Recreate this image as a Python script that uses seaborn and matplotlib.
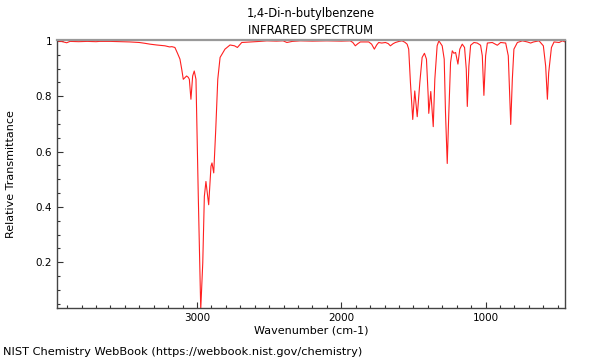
import pandas as pd
import matplotlib
matplotlib.use('Agg')
import matplotlib.pyplot as plt
import matplotlib.ticker as mticker
import seaborn as sns

# IR spectrum
wavenumber = [3970, 3940, 3903, 3880, 3820, 3760, 3700, 3674, 3600, 3530,
              3465, 3400, 3360, 3326, 3280, 3222, 3190, 3174, 3153, 3135,
              3118, 3105, 3095, 3085, 3072, 3060, 3053, 3042, 3030, 3019,
              3007, 2991, 2974, 2960, 2949, 2938, 2919, 2903, 2896, 2884,
              2870, 2856, 2840, 2806, 2771, 2740, 2720, 2690, 2620, 2563,
              2516, 2450, 2403, 2377, 2340, 2285, 2200, 2100, 2000, 1938,
              1920, 1903, 1885, 1868, 1840, 1810, 1790, 1771, 1755, 1741,
              1720, 1694, 1675, 1660, 1640, 1625, 1600, 1579, 1560, 1544,
              1533, 1521, 1505, 1491, 1474, 1456, 1440, 1424, 1410, 1398,
              1394, 1380, 1363, 1352, 1336, 1324, 1301, 1287, 1278, 1266,
              1255, 1243, 1231, 1220, 1208, 1192, 1179, 1162, 1146, 1134,
              1127, 1116, 1104, 1081, 1058, 1035, 1023, 1012, 1000, 988,
              954, 919, 896, 861, 843, 826, 815, 804, 780, 745,
              711, 688, 668, 630, 600, 584, 572, 563, 544, 526,
              491, 467, 450]
transmittance = [0.999, 0.998, 0.993, 0.998, 0.997, 0.998, 0.997, 0.998, 0.998, 0.997,
                 0.996, 0.994, 0.991, 0.988, 0.985, 0.982, 0.978, 0.979, 0.976, 0.955,
                 0.934, 0.895, 0.861, 0.866, 0.873, 0.868, 0.861, 0.789, 0.873, 0.891,
                 0.861, 0.438, 0.03, 0.198, 0.438, 0.492, 0.408, 0.547, 0.559, 0.523,
                 0.680, 0.861, 0.940, 0.970, 0.985, 0.982, 0.976, 0.994, 0.996, 0.998,
                 1.0, 0.999, 1.0, 0.994, 0.998, 1.0, 0.999, 1.0, 0.999, 1.0,
                 0.994, 0.982, 0.990, 0.996, 0.996, 0.996, 0.988, 0.970, 0.985, 0.994,
                 0.992, 0.994, 0.990, 0.982, 0.990, 0.994, 0.998, 1.0, 0.995, 0.988,
                 0.970, 0.849, 0.716, 0.819, 0.726, 0.849, 0.940, 0.955, 0.934, 0.801,
                 0.738, 0.817, 0.690, 0.861, 0.982, 1.0, 0.982, 0.934, 0.740, 0.557,
                 0.740, 0.922, 0.964, 0.955, 0.958, 0.916, 0.970, 0.988, 0.976, 0.897,
                 0.763, 0.909, 0.984, 0.994, 0.992, 0.984, 0.946, 0.803, 0.946, 0.992,
                 0.994, 0.984, 0.994, 0.992, 0.946, 0.698, 0.861, 0.970, 0.994, 1.0,
                 0.996, 0.992, 0.996, 1.0, 0.982, 0.909, 0.789, 0.885, 0.976, 0.996,
                 0.994, 1.0, 0.996]

x_ticks = [1000, 2000, 3000]
x_ticklabels = ['1000', '2000', '3000']
y_ticks = [0.2, 0.4, 0.6, 0.8, 1.0]
y_ticklabels = ['0.2', '0.4', '0.6', '0.8', '1']

df = pd.DataFrame({'wavenumber': wavenumber, 'transmittance': transmittance})

sns.set_style('white')
plt.rcParams['font.family'] = ['DejaVu Sans']
plt.rcParams['text.color'] = 'black'
plt.rcParams['axes.labelcolor'] = 'black'

fig = plt.figure(figsize=(6, 3.6), dpi=100)
ax = fig.add_axes([57/600, 1-308/360, 508/600, 268/360])

sns.lineplot(data=df, x='wavenumber', y='transmittance', ax=ax,
             color='#ff2020', linewidth=0.8, estimator=None, sort=False)

ax.set_xlim(3970, 450)
ax.set_ylim(0.035, 1.003)

ax.set_xticks(x_ticks)
ax.set_xticklabels(x_ticklabels)
ax.set_yticks(y_ticks)
ax.set_yticklabels(y_ticklabels)
ax.xaxis.set_minor_locator(mticker.MultipleLocator(100))
ax.yaxis.set_minor_locator(mticker.MultipleLocator(0.05))
ax.tick_params(which='both', direction='in', labelsize=7.5, colors='#333333',
               labelcolor='black', bottom=True, left=True, top=False, right=False)
ax.tick_params(which='major', length=4, width=0.8)
ax.tick_params(which='minor', length=2.5, width=0.8)

for side in ['left', 'bottom', 'right']:
    ax.spines[side].set_color('#444444')
    ax.spines[side].set_linewidth(1.0)
ax.spines['top'].set_color('#999999')
ax.spines['top'].set_linewidth(1.6)

ax.set_xlabel('Wavenumber (cm-1)', fontsize=8)
ax.set_ylabel('Relative Transmittance', fontsize=8)
ax.xaxis.set_label_coords(0.5, -0.067)
ax.yaxis.set_label_coords(-0.081, 0.5)

fig.text(311/600, 1-13/360, '1,4-Di-n-butylbenzene', ha='center', va='center', fontsize=8.3)
fig.text(311/600, 1-30/360, 'INFRARED SPECTRUM', ha='center', va='center', fontsize=8.3)
fig.text(3/600, 1-352/360, 'NIST Chemistry WebBook (https://webbook.nist.gov/chemistry)',
         ha='left', va='center', fontsize=8.2)

fig.savefig('out.png', dpi=100)
